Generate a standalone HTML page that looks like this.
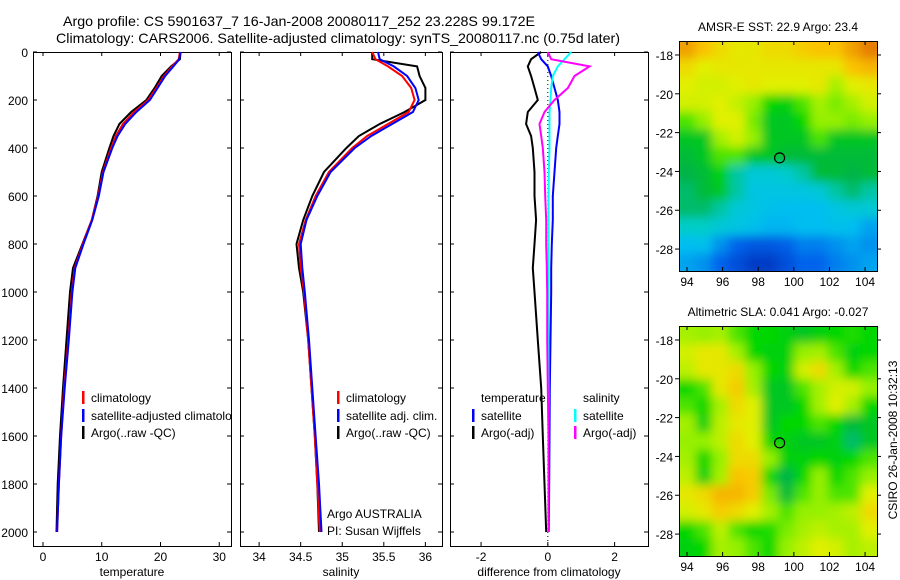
<!DOCTYPE html>
<html><head><meta charset="utf-8"><style>
html,body{margin:0;padding:0;background:#fff}
svg{display:block;font-family:"Liberation Sans",sans-serif;font-size:12px}
</style></head><body>
<svg id="chart" width="900" height="580" viewBox="0 0 900 580">
<defs><filter id="blur" x="0" y="0" width="1" height="1"><feGaussianBlur stdDeviation="5"/></filter>
<clipPath id="clipM1"><rect x="679" y="41" width="198" height="230"/></clipPath>
<clipPath id="clipM2"><rect x="679" y="326" width="198" height="230"/></clipPath>
<clipPath id="clipP1"><rect x="33" y="52" width="198" height="494"/></clipPath></defs>
<text x="63" y="26" font-size="14" textLength="472" lengthAdjust="spacingAndGlyphs">Argo profile: CS 5901637_7 16-Jan-2008 20080117_252 23.228S 99.172E</text>
<text x="56" y="43" font-size="14" textLength="564" lengthAdjust="spacingAndGlyphs">Climatology: CARS2006. Satellite-adjusted climatology: synTS_20080117.nc (0.75d later)</text>
<g id="g"></g>
</svg>
<script>
const depths=[0,30,60,100,150,200,250,300,350,400,500,600,700,800,900,1000,1200,1400,1600,1800,2000];
const tempClim=[23.3,23.1,22.0,20.6,19.3,17.9,15.5,13.6,12.4,11.6,10.2,9.4,8.3,6.8,5.4,4.9,4.3,3.6,3.1,2.7,2.4];
const tempSat=[23.4,23.2,22.2,20.8,19.5,18.2,15.9,14.0,12.7,11.8,10.3,9.5,8.4,6.9,5.5,5.0,4.4,3.7,3.1,2.7,2.4];
const tempArgo=[23.4,23.3,21.8,20.2,19.0,17.6,15.0,13.0,12.0,11.3,10.0,9.3,8.3,6.7,5.1,4.6,4.0,3.4,2.9,2.5,2.3];
const salClim=[35.36,35.4,35.55,35.72,35.83,35.87,35.8,35.55,35.3,35.12,34.84,34.68,34.56,34.48,34.5,34.54,34.59,34.63,34.67,34.7,34.73];
const salSat=[35.43,35.45,35.62,35.78,35.88,35.92,35.85,35.6,35.35,35.15,34.86,34.7,34.57,34.5,34.52,34.55,34.6,34.64,34.68,34.72,34.75];
const salArgo=[35.36,35.36,35.9,35.93,36.0,36.0,35.75,35.45,35.2,35.05,34.78,34.64,34.53,34.45,34.48,34.53,34.59,34.63,34.67,34.7,34.72];
const tDiffSat=[-0.3,-0.2,0,0.1,0.2,0.3,0.35,0.35,0.3,0.25,0.2,0.15,0.15,0.12,0.1,0.1,0.08,0.06,0.05,0.04,0.03];
const tDiffArgo=[-0.2,-0.5,-0.6,-0.5,-0.4,-0.3,-0.6,-0.65,-0.5,-0.45,-0.4,-0.4,-0.35,-0.4,-0.45,-0.4,-0.3,-0.2,-0.15,-0.1,-0.05];
const sDiffSat=[0.7,0.5,0.3,0.15,0.1,0.08,0.05,0.05,0.05,0.05,0.03,0.02,0.02,0.02,0.02,0.02,0.02,0.02,0.02,0.02,0.02];
const sDiffArgo=[0,0.1,1.25,0.8,0.6,0.2,-0.1,-0.25,-0.2,-0.15,-0.1,-0.08,-0.05,-0.05,-0.03,-0.02,-0.02,0,0.02,0.02,0.02];
const depthTicks=[0,200,400,600,800,1000,1200,1400,1600,1800,2000];
const tTicks=[0,10,20,30];
const sTicks=[34,34.5,35,35.5,36];
const dTicks=[-2,0,2];
const lonTicks=[94,96,98,100,102,104];
const latTicks=[-18,-20,-22,-24,-26,-28];
const sstGrid=[
[0.85,0.8,0.75,0.72,0.72,0.75,0.75,0.78,0.8,0.8,0.85,0.9],
[0.75,0.7,0.72,0.72,0.72,0.72,0.72,0.72,0.72,0.72,0.8,0.82],
[0.7,0.68,0.68,0.7,0.72,0.7,0.7,0.7,0.72,0.62,0.7,0.72],
[0.68,0.68,0.7,0.66,0.6,0.5,0.48,0.55,0.62,0.58,0.62,0.68],
[0.55,0.6,0.7,0.7,0.58,0.45,0.45,0.5,0.6,0.6,0.58,0.6],
[0.45,0.45,0.62,0.68,0.6,0.45,0.45,0.45,0.55,0.45,0.45,0.45],
[0.42,0.45,0.55,0.55,0.45,0.45,0.42,0.42,0.42,0.42,0.42,0.42],
[0.4,0.42,0.48,0.35,0.3,0.3,0.32,0.35,0.42,0.42,0.4,0.42],
[0.38,0.42,0.45,0.35,0.28,0.28,0.28,0.28,0.3,0.35,0.38,0.35],
[0.38,0.38,0.35,0.3,0.28,0.26,0.25,0.25,0.25,0.28,0.3,0.3],
[0.33,0.33,0.3,0.28,0.26,0.24,0.24,0.25,0.25,0.26,0.25,0.22],
[0.25,0.26,0.2,0.15,0.12,0.12,0.14,0.18,0.18,0.2,0.22,0.2],
[0.22,0.2,0.15,0.1,0.05,0.05,0.1,0.15,0.15,0.18,0.2,0.22]];
const slaGrid=[
[0.62,0.6,0.62,0.55,0.5,0.5,0.48,0.45,0.48,0.5,0.52,0.5],
[0.68,0.72,0.72,0.62,0.5,0.48,0.48,0.6,0.62,0.55,0.48,0.5],
[0.65,0.72,0.72,0.75,0.6,0.5,0.48,0.68,0.75,0.62,0.5,0.55],
[0.5,0.55,0.72,0.78,0.62,0.45,0.45,0.55,0.62,0.68,0.68,0.6],
[0.55,0.5,0.62,0.75,0.7,0.45,0.45,0.5,0.62,0.7,0.62,0.5],
[0.62,0.48,0.65,0.72,0.7,0.45,0.5,0.5,0.55,0.5,0.42,0.45],
[0.6,0.6,0.65,0.75,0.7,0.5,0.48,0.45,0.45,0.48,0.38,0.45],
[0.62,0.5,0.6,0.75,0.75,0.6,0.48,0.48,0.5,0.48,0.5,0.55],
[0.65,0.48,0.62,0.8,0.78,0.5,0.4,0.5,0.6,0.5,0.55,0.6],
[0.72,0.75,0.82,0.82,0.78,0.58,0.42,0.55,0.6,0.55,0.55,0.7],
[0.68,0.72,0.78,0.75,0.7,0.62,0.55,0.6,0.6,0.62,0.65,0.75],
[0.5,0.55,0.65,0.55,0.5,0.52,0.58,0.62,0.65,0.62,0.62,0.7],
[0.48,0.5,0.62,0.6,0.55,0.5,0.6,0.65,0.7,0.68,0.62,0.65]];
const argoPos=[99.2,-23.3];

const NS="http://www.w3.org/2000/svg";
const G=document.getElementById('g');
function mk(tag,attrs,parent,txt){const e=document.createElementNS(NS,tag);for(const k in attrs)e.setAttribute(k,attrs[k]);if(txt!==undefined)e.textContent=txt;(parent||G).appendChild(e);return e;}
const PT=52,PB=546;
const yD=d=>PT+d*0.24;
function lin(d0,d1,r0,r1){return v=>r0+(v-d0)/(d1-d0)*(r1-r0);}
const panels=[
 {x0:33,x1:231,dom:[-1.7,32],ticks:tTicks,label:"temperature",name:"temperature-panel"},
 {x0:240,x1:442,dom:[33.77,36.2],ticks:sTicks,label:"salinity",name:"salinity-panel"},
 {x0:450,x1:648,dom:[-2.93,3.0],ticks:dTicks,label:"difference from climatology",name:"difference-panel"}];
panels.forEach((p,i)=>{
 p.sx=lin(p.dom[0],p.dom[1],p.x0,p.x1);
 const g=mk('g',{});
 
 
 p.g=g;
 const r=mk('rect',{x:p.x0+0.5,y:PT+0.5,width:p.x1-p.x0,height:PB-PT,fill:'none',stroke:'#000'},g);
 
 
 depthTicks.forEach(d=>{const y=yD(d);
  mk('line',{x1:p.x0,x2:p.x0+4,y1:y,y2:y,stroke:'#000'},g);
  mk('line',{x1:p.x1-4,x2:p.x1,y1:y,y2:y,stroke:'#000'},g);
  if(i===0){const t=mk('text',{x:28,y:y+5,'text-anchor':'end'},g,String(d));
   
   }
 });
 p.ticks.forEach(v=>{const x=p.sx(v);
  mk('line',{x1:x,x2:x,y1:PB-4,y2:PB,stroke:'#000'},g);
  mk('line',{x1:x,x2:x,y1:PT,y2:PT+4,stroke:'#000'},g);
  const t=mk('text',{x:x,y:PB+15,'text-anchor':'middle'},g,String(v));
  
  
 });
 const l=mk('text',{x:(p.x0+p.x1)/2,y:576,'text-anchor':'middle'},g,p.label);
 
 
});
function series(p,vals,color,name){
 const pts=vals.map((v,k)=>p.sx(v).toFixed(1)+','+yD(depths[k]).toFixed(1)).join(' ');
 const e=mk('polyline',{points:pts,fill:'none',stroke:color,'stroke-width':2},p.g);
 
 
}
const P=panels;
mk('line',{x1:P[2].sx(0),x2:P[2].sx(0),y1:PT,y2:PB,stroke:'#000','stroke-dasharray':'1,3'},P[2].g);
series(P[0],tempArgo,'#000','temp-argo-line');
series(P[0],tempClim,'#f00','temp-climatology-line');
series(P[0],tempSat,'#00f','temp-satellite-line');
series(P[1],salArgo,'#000','sal-argo-line');
series(P[1],salClim,'#f00','sal-climatology-line');
series(P[1],salSat,'#00f','sal-satellite-line');
series(P[2],tDiffArgo,'#000','temp-diff-argo-line');
series(P[2],tDiffSat,'#00f','temp-diff-satellite-line');
series(P[2],sDiffSat,'#0ff','sal-diff-satellite-line');
series(P[2],sDiffArgo,'#f0f','sal-diff-argo-line');
const legClip=mk('g',{'clip-path':'url(#clipP1)'},P[0].g);
function legend(x,y,color,txt,parent){
 const g=mk('g',{},parent);
 
 
 if(color)mk('rect',{x:x,y:y-11,width:2.5,height:13,fill:color},g);
 mk('text',{x:x+9,y:y},g,txt);
}
legend(82,402,'#f00','climatology',legClip);
legend(82,420,'#00f','satellite-adjusted climatology',legClip);
legend(82,437,'#000','Argo(..raw -QC)',legClip);
legend(337,402,'#f00','climatology',P[1].g);
legend(337,420,'#00f','satellite adj. clim.',P[1].g);
legend(337,437,'#000','Argo(..raw -QC)',P[1].g);
legend(472,402,null,'temperature',P[2].g);
legend(472,420,'#00f','satellite',P[2].g);
legend(472,437,'#000','Argo(-adj)',P[2].g);
legend(574,402,null,'salinity',P[2].g);
legend(574,420,'#0ff','satellite',P[2].g);
legend(574,437,'#f0f','Argo(-adj)',P[2].g);
const a1=mk('text',{x:327,y:518},P[1].g,'Argo AUSTRALIA');

const a2=mk('text',{x:327,y:535},P[1].g,'PI: Susan Wijffels');


const stops=[[0,[0,40,180]],[0.15,[0,100,235]],[0.25,[0,190,240]],[0.33,[0,205,200]],[0.4,[0,180,70]],[0.5,[0,215,0]],[0.6,[150,240,0]],[0.7,[225,240,0]],[0.8,[250,195,0]],[0.9,[230,125,0]],[1,[200,80,0]]];
function cmap(v){for(let i=1;i<stops.length;i++){if(v<=stops[i][0]){const a=stops[i-1],b=stops[i],t=(v-a[0])/(b[0]-a[0]);const c=a[1].map((x,k)=>Math.round(x+(b[1][k]-x)*t));return `rgb(${c})`;}}return 'rgb(200,80,0)';}
function map(y0,grid,title,clip,name){
 const x0=679,x1=877,y1=y0+230;
 const sx=lin(93.55,104.67,x0,x1), sy=lin(-17.28,-29.13,y0,y1);
 const g=mk('g',{});
 
 
 const cg=mk('g',{'clip-path':`url(#${clip})`},g);
 const ig=mk('g',{filter:'url(#blur)'},cg);
 const nr=grid.length,nc=grid[0].length;
 const dl=(104.67-93.55)/nc, dt=(29.13-17.28)/nr;
 grid.forEach((row,r)=>row.forEach((v,c)=>{
  const xa=sx(93.55+c*dl)-(c===0?8:0), xb=sx(93.55+(c+1)*dl)+(c===nc-1?8:0);
  const ya=sy(-17.28-r*dt)-(r===0?8:0), yb=sy(-17.28-(r+1)*dt)+(r===nr-1?8:0);
  const e=mk('rect',{x:xa,y:ya,width:xb-xa+0.5,height:yb-ya+0.5,fill:cmap(v)},ig);
  
  
 }));
 mk('rect',{x:x0+0.5,y:y0+0.5,width:x1-x0,height:230,fill:'none',stroke:'#000'},g);
 lonTicks.forEach(v=>{const x=sx(v);
  mk('line',{x1:x,x2:x,y1:y0,y2:y0+4,stroke:'#000'},g);
  mk('line',{x1:x,x2:x,y1:y1-4,y2:y1,stroke:'#000'},g);
  const t=mk('text',{x:x,y:y1+15,'text-anchor':'middle'},g,String(v));
  
  });
 latTicks.forEach(v=>{const y=sy(v);
  mk('line',{x1:x0-4,x2:x0,y1:y,y2:y,stroke:'#000'},g);
  mk('line',{x1:x1,x2:x1+4,y1:y,y2:y,stroke:'#000'},g);
  const t=mk('text',{x:x0-6,y:y+5,'text-anchor':'end'},g,String(v));
  
  });
 const c=mk('circle',{cx:sx(argoPos[0]),cy:sy(argoPos[1]),r:5,fill:'none',stroke:'#000','stroke-width':1.2},g);
 
 
 const t=mk('text',{x:778,y:y0-10,'text-anchor':'middle'},g,title);
 
 
}
map(41,sstGrid,'AMSR-E SST: 22.9 Argo: 23.4','clipM1','sst-map');
map(326,slaGrid,'Altimetric SLA: 0.041  Argo: -0.027','clipM2','sla-map');
const cs=mk('text',{x:0,y:0,'text-anchor':'middle',transform:'translate(897,440) rotate(-90)'},G,'CSIRO 26-Jan-2008 10:32:13');


</script>
</body></html>
